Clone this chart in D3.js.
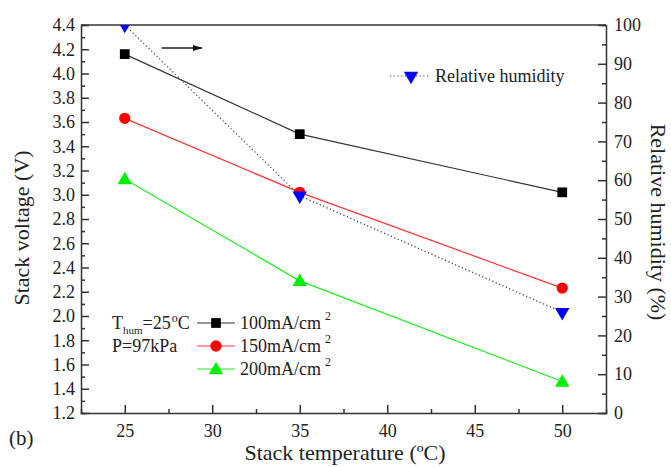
<!DOCTYPE html>
<html>
<head>
<meta charset="utf-8">
<script src="https://cdn.jsdelivr.net/npm/d3@7"></script>
<style>
  body { margin: 0; background: #fff; }
  svg text { font-family: "Liberation Serif", "Times New Roman", "DejaVu Serif", serif !important; fill: #222; }
</style>
</head>
<body>
<svg width="671" height="467"></svg>
<script>
// values
var temps = [25, 35, 50];
var v100 = [4.16, 3.50, 3.02];
var v150 = [3.63, 3.02, 2.23];
var v200 = [3.13, 2.29, 1.46];
var humidity = [100, 56, 26];
var xTicks = [25, 30, 35, 40, 45, 50];

var svg = d3.select("svg");
var plotL = 81, plotR = 606, plotT = 25, plotB = 413;

var x = d3.scaleLinear().domain([22.5, 52.5]).range([plotL, plotR]);
var yV = d3.scaleLinear().domain([1.2, 4.4]).range([plotB, plotT]);
var yH = d3.scaleLinear().domain([0, 100]).range([plotB, plotT]);

svg.append("defs").append("clipPath").attr("id", "plot")
  .append("rect").attr("x", plotL).attr("y", plotT)
  .attr("width", plotR - plotL).attr("height", plotB - plotT);

var axisColor = "#333";

// axes: ticks point inward
var gx = svg.append("g").attr("transform", "translate(0," + plotB + ")")
  .call(d3.axisTop(x).tickValues(d3.range(25, 52.5, 2.5)).tickSize(4).tickFormat(""));
gx.selectAll(".tick line").filter(d => d % 5 == 0).attr("y2", -8);
var gxl = svg.append("g").attr("transform", "translate(0," + plotB + ")")
  .call(d3.axisBottom(x).tickValues(xTicks).tickSize(0).tickPadding(11));
gxl.select(".domain").remove();

var gl = svg.append("g").attr("transform", "translate(" + plotL + ",0)")
  .call(d3.axisRight(yV).tickValues(d3.range(12, 45, 1).map(d => d / 10)).tickSize(4).tickFormat(""));
gl.selectAll(".tick line").filter(d => Math.round(d * 10) % 2 == 0).attr("x2", 8);
var gll = svg.append("g").attr("transform", "translate(" + plotL + ",0)")
  .call(d3.axisLeft(yV).tickValues(d3.range(12, 45, 2).map(d => d / 10)).tickSize(0).tickPadding(6).tickFormat(d3.format(".1f")));
gll.select(".domain").remove();

var gr = svg.append("g").attr("transform", "translate(" + plotR + ",0)")
  .call(d3.axisLeft(yH).tickValues(d3.range(0, 101, 5)).tickSize(4).tickFormat(""));
gr.selectAll(".tick line").filter(d => d % 10 == 0).attr("x2", -8);
var grl = svg.append("g").attr("transform", "translate(" + plotR + ",0)")
  .call(d3.axisRight(yH).tickValues(d3.range(0, 101, 10)).tickSize(0).tickPadding(8));
grl.select(".domain").remove();

svg.append("line").attr("class", "frame")
  .attr("x1", plotL).attr("x2", plotR).attr("y1", plotT).attr("y2", plotT);

svg.selectAll(".domain, .tick line, .frame").attr("stroke", axisColor).attr("stroke-width", 1.5);
svg.selectAll(".tick text").attr("font-size", 18);

// markers
var sym = {
  square: d3.symbol().type(d3.symbolSquare).size(95),
  circle: d3.symbol().type(d3.symbolCircle).size(100),
  tri: d3.symbol().type(d3.symbolTriangle).size(90),
  down: d3.symbol().type(d3.symbolTriangle).size(90)
};

var series = [
  { vals: v100, color: "#000", stroke: "#333", shape: "square", label: "100mA/cm" },
  { vals: v150, color: "#ff0000", stroke: "#ff3333", shape: "circle", label: "150mA/cm" },
  { vals: v200, color: "#00ee00", stroke: "#22ee22", shape: "tri", label: "200mA/cm" }
];

var line = d3.line().x(d => x(d[0])).y(d => yV(d[1]));
series.forEach(s => {
  var pts = temps.map((t, i) => [t, s.vals[i]]);
  svg.append("path").datum(pts).attr("d", line)
    .attr("fill", "none").attr("stroke", s.stroke).attr("stroke-width", 1.2);
  svg.selectAll(null).data(pts).enter().append("path")
    .attr("d", sym[s.shape])
    .attr("transform", d => "translate(" + x(d[0]) + "," + (yV(d[1]) + (s.shape == "tri" ? 1 : 0)) + ")")
    .attr("fill", s.color);
});

// relative humidity
var hpts = temps.map((t, i) => [t, humidity[i]]);
var hg = svg.append("g").attr("clip-path", "url(#plot)");
hg.append("path").datum(hpts)
  .attr("d", d3.line().x(d => x(d[0])).y(d => yH(d[1])))
  .attr("fill", "none").attr("stroke", "#444").attr("stroke-width", 1.2)
  .attr("stroke-dasharray", "1.2,2.5");
hg.selectAll(null).data(hpts).enter().append("path")
  .attr("d", sym.down)
  .attr("transform", d => "translate(" + x(d[0]) + "," + yH(d[1]) + ") rotate(180)")
  .attr("fill", "#0000ff");

// arrow pointing to right axis
svg.append("defs").append("marker").attr("id", "arr")
  .attr("viewBox", "0 0 10 6").attr("refX", 9).attr("refY", 3)
  .attr("markerWidth", 10).attr("markerHeight", 6).attr("markerUnits", "userSpaceOnUse")
  .attr("orient", "auto")
  .append("path").attr("d", "M0,0L10,3L0,6Z").attr("fill", "#111");
svg.append("line")
  .attr("x1", x(27.1)).attr("x2", x(29.4)).attr("y1", yV(4.21)).attr("y2", yV(4.21))
  .attr("stroke", "#222").attr("stroke-width", 1.5).attr("marker-end", "url(#arr)");

// RH legend
var rl = svg.append("g").attr("transform", "translate(390,76)");
rl.append("line").attr("x1", 0).attr("x2", 40)
  .attr("stroke", "#444").attr("stroke-width", 1.2).attr("stroke-dasharray", "1.2,2.5");
rl.append("path").attr("d", sym.down).attr("transform", "translate(21,0) rotate(180)").attr("fill", "#0000ff");
rl.append("text").attr("x", 45).attr("y", 6).attr("font-size", 18)
  .text("Relative humidity");

// current density legend
var lg = svg.append("g");
series.forEach((s, i) => {
  var yy = 323 + i * 23;
  lg.append("line").attr("x1", 197).attr("x2", 235).attr("y1", yy).attr("y2", yy)
    .attr("stroke", s.stroke).attr("stroke-width", 1.2);
  lg.append("path").attr("d", sym[s.shape])
    .attr("transform", "translate(216," + (yy + (s.shape == "tri" ? 1 : 0)) + ")").attr("fill", s.color);
  var t = lg.append("text").attr("x", 240).attr("y", yy + 6).attr("font-size", 18);
  t.append("tspan").text(s.label);
  t.append("tspan").attr("dx", 4).attr("dy", -9).attr("font-size", 12).text("2");
});

var tl = lg.append("text").attr("x", 112).attr("y", 329).attr("font-size", 18);
tl.append("tspan").text("T");
tl.append("tspan").attr("dy", 5).attr("font-size", 11).text("hum");
tl.append("tspan").attr("dy", -5).text("=25");
tl.append("tspan").attr("dy", -7).attr("font-size", 12).attr("dx", 1).text("o");
tl.append("tspan").attr("dy", 7).text("C");
lg.append("text").attr("x", 112).attr("y", 352).attr("font-size", 18).text("P=97kPa");

// axis titles
svg.append("text").attr("x", 345).attr("y", 460).attr("text-anchor", "middle")
  .attr("font-size", 22).text("Stack temperature (ºC)");
svg.append("text").attr("transform", "translate(29,228) rotate(-90)").attr("text-anchor", "middle")
  .attr("font-size", 22).text("Stack voltage (V)");
svg.append("text").attr("transform", "translate(651,222) rotate(90)").attr("text-anchor", "middle")
  .attr("font-size", 22).text("Relative humidity (%)");
svg.append("text").attr("x", 9).attr("y", 445).attr("font-size", 21).text("(b)");
</script>
</body>
</html>
